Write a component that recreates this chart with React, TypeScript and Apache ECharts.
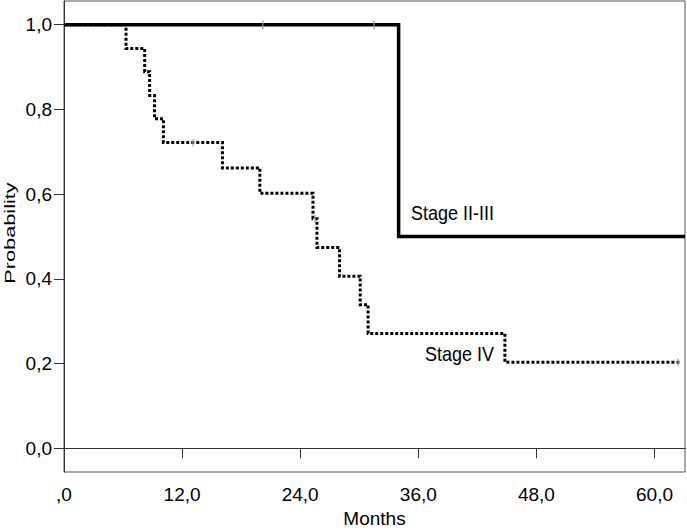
import React, { useEffect, useRef } from "react";
import * as echarts from "echarts";

// Kaplan-Meier steps: time (months) where the curve drops, and value after the drop
const stage23Times = [0, 34.0, 63.1];
const stage23Values = [1.0, 0.5, 0.5];
const stage23CensorTimes = [20.2, 31.5];
const stage23CensorValues = [1.0, 1.0];

const stage4Times = [0, 6.3, 8.2, 8.7, 9.2, 10.1, 16.1, 19.9, 25.3, 25.7, 28.0, 30.1, 30.9, 44.8, 62.6];
const stage4Values = [1.0, 0.944, 0.889, 0.833, 0.778, 0.722, 0.662, 0.602, 0.542, 0.474, 0.406, 0.339, 0.271, 0.203, 0.203];
const stage4CensorTimes = [13.1, 25.5, 62.4];
const stage4CensorValues = [0.722, 0.542, 0.203];

const xTicks = [0, 12, 24, 36, 48, 60];
const xTickLabels = [",0", "12,0", "24,0", "36,0", "48,0", "60,0"];
const yTicks = [0, 0.2, 0.4, 0.6, 0.8, 1.0];
const yTickLabels = ["0,0", "0,2", "0,4", "0,6", "0,8", "1,0"];

const seriesNames = ["Stage II-III", "Stage IV"];
const xTitle = "Months";
const yTitle = "Probability";

const FONT = "'Liberation Sans', Arial, sans-serif";

export default function App() {
  const ref = useRef<HTMLDivElement>(null);
  useEffect(() => {
    if (!ref.current) return;
    const chart = echarts.init(ref.current, null, { renderer: "svg" });
    const zip = (xs: number[], ys: number[]) => xs.map((x, i) => [x, ys[i]]);
    const axisLineStyle = { color: "#333", width: 1 };
    chart.setOption({
      animation: false,
      backgroundColor: "#fff",
      textStyle: { fontFamily: FONT },
      grid: {
        left: 64,
        top: 1,
        right: 2,
        bottom: 60,
        containLabel: false,
        outerBoundsMode: "none",
        show: true,
        borderColor: "#555",
        borderWidth: 1,
        backgroundColor: "transparent",
      },
      xAxis: {
        type: "value",
        min: 0,
        max: 63.1,
        name: xTitle,
        nameLocation: "middle",
        nameGap: 35,
        nameTextStyle: { fontSize: 19, color: "#000", fontFamily: FONT },
        axisLine: { show: true, lineStyle: axisLineStyle },
        axisTick: { show: true, length: 10, lineStyle: axisLineStyle, customValues: xTicks },
        axisLabel: {
          customValues: xTicks,
          margin: 13,
          fontSize: 19,
          color: "#000",
          fontFamily: FONT,
          formatter: (v: number) => {
            const i = xTicks.indexOf(v);
            return i >= 0 ? xTickLabels[i] : "";
          },
        },
        splitLine: { show: false },
      },
      yAxis: {
        type: "value",
        min: -0.056,
        max: 1.056,
        axisLine: { show: true, lineStyle: axisLineStyle },
        axisTick: { show: true, length: 10, lineStyle: axisLineStyle, customValues: yTicks },
        axisLabel: {
          customValues: yTicks,
          margin: 12,
          fontSize: 19,
          color: "#000",
          fontFamily: FONT,
          formatter: (v: number) => {
            const i = yTicks.findIndex((t) => Math.abs(t - v) < 1e-6);
            return i >= 0 ? yTickLabels[i] : "";
          },
        },
        splitLine: { show: false },
      },
      series: [
        {
          name: seriesNames[0],
          type: "line",
          step: "end",
          showSymbol: false,
          data: zip(stage23Times, stage23Values),
          lineStyle: { color: "#000", width: 3.5, join: "miter", cap: "butt" },
          z: 3,
        },
        {
          name: seriesNames[1],
          type: "line",
          step: "end",
          showSymbol: false,
          data: zip(stage4Times, stage4Values),
          lineStyle: { color: "#000", width: 3, type: [3, 2], join: "miter", cap: "butt" },
          z: 2,
        },
        {
          type: "scatter",
          data: zip(stage23CensorTimes, stage23CensorValues),
          symbol: "rect",
          symbolSize: [1.5, 9],
          itemStyle: { color: "#999" },
          z: 5,
        },
        {
          type: "scatter",
          data: zip(stage4CensorTimes, stage4CensorValues),
          symbol: "rect",
          symbolSize: [1.5, 8],
          itemStyle: { color: "#aaa" },
          z: 5,
        },
      ],
      graphic: [
        {
          type: "text",
          x: 10,
          y: 233,
          rotation: Math.PI / 2,
          scaleX: 1.5,
          scaleY: 1,
          style: {
            text: yTitle,
            fontSize: 14.5,
            fill: "#000",
            fontFamily: FONT,
            textAlign: "center",
            textVerticalAlign: "middle",
          },
        },
        {
          type: "text",
          x: 411,
          y: 213,
          scaleY: 1.15,
          style: { text: seriesNames[0], fontSize: 18, fill: "#000", fontFamily: FONT, textVerticalAlign: "middle" },
        },
        {
          type: "text",
          x: 425,
          y: 354,
          scaleY: 1.15,
          style: { text: seriesNames[1], fontSize: 18, fill: "#000", fontFamily: FONT, textVerticalAlign: "middle" },
        },
      ],
    });
    return () => chart.dispose();
  }, []);
  return (
    <div
      ref={ref}
      style={{ position: "fixed", left: 0, top: 0, width: 687, height: 532, background: "#fff" }}
    />
  );
}
